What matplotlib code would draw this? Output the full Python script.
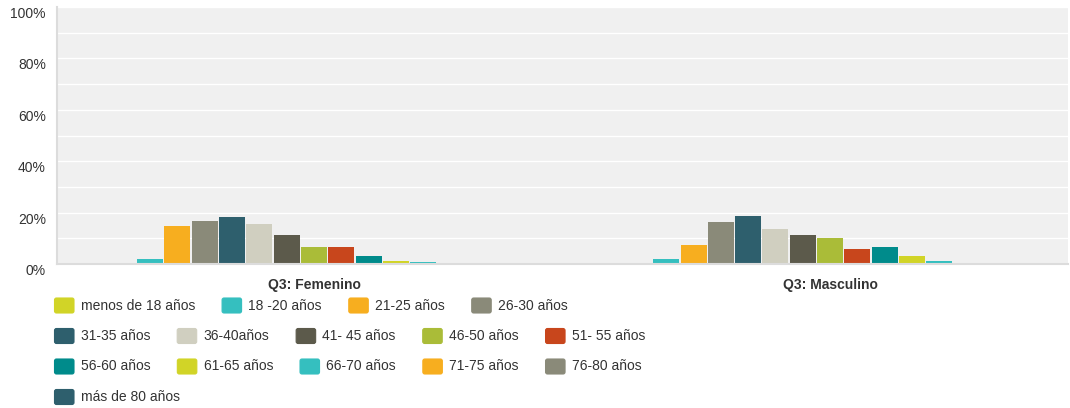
import numpy as np
import matplotlib
matplotlib.use('Agg')
import matplotlib.pyplot as plt
from matplotlib.patches import FancyBboxPatch
from matplotlib.transforms import Affine2D, ScaledTranslation

plt.rcParams['font.family'] = ['Liberation Sans', 'DejaVu Sans']

# datos
categorias = ['Q3: Femenino', 'Q3: Masculino']
series = ['menos de 18 años', '18 -20 años', '21-25 años', '26-30 años',
          '31-35 años', '36-40años', '41- 45 años', '46-50 años',
          '51- 55 años', '56-60 años', '61-65 años', '66-70 años',
          '71-75 años', '76-80 años', 'más de 80 años']
femenino = [0, 1.9, 14.8, 16.8, 18.3, 15.6, 11.3, 6.6, 6.6, 3.1, 1.2, 0.8, 0, 0, 0]
masculino = [0, 1.9, 7.4, 16.4, 18.7, 13.6, 11.3, 10.1, 5.8, 6.6, 3.1, 1.2, 0, 0, 0]
colores = ['#d1d427', '#35bfbf', '#f7ae1f', '#8a8a79', '#2e5f6d',
           '#d0cfc0', '#5c5a4b', '#aabc38', '#c8461c', '#008b8b',
           '#d1d427', '#35bfbf', '#f7ae1f', '#8a8a79', '#2e5f6d']
yticks = [0, 20, 40, 60, 80, 100]

W, H = 1070, 408
fs = 10.0
fig = plt.figure(figsize=(W / 100, H / 100), dpi=100)
ax = fig.add_axes([57 / W, (H - 264) / H, (1068 - 57) / W, (264 - 7) / H])
ax.set_facecolor('#f0f0f0')

paso = 27.3 / 516
ancho = 26 / 516
valores = np.array([femenino, masculino])
xcat = np.arange(len(categorias))
for i, s in enumerate(series):
    ax.bar(xcat + (i - 7) * paso, valores[:, i], width=ancho, color=colores[i],
           zorder=3, linewidth=0)

ax.set_xlim(-0.498, 1.461)
ax.set_ylim(0, 100)
ax.set_yticks(yticks)
ax.set_yticklabels([f'{v}%' for v in yticks])
ax.set_yticks(np.arange(0, 101, 10), minor=True)
ax.grid(True, which='both', axis='y', color='white', linewidth=1.0, zorder=1)
ax.tick_params(axis='y', which='both', length=0, pad=8, labelsize=fs, labelcolor='#333333')
offset = ScaledTranslation(0, -5.5 / 100, fig.dpi_scale_trans)
for lab in ax.get_yticklabels():
    lab.set_transform(lab.get_transform() + offset)
ax.set_xticks(xcat)
ax.set_xticklabels(categorias, fontweight='bold')
ax.tick_params(axis='x', length=0, pad=10, labelsize=fs, labelcolor='#333333')
for lado in ['top', 'right']:
    ax.spines[lado].set_visible(False)
ax.spines['left'].set_color('#dcdcdc')
ax.spines['left'].set_linewidth(1.5)
ax.spines['bottom'].set_color('#dcdcdc')
ax.spines['bottom'].set_linewidth(1.5)
ax.spines['bottom'].set_zorder(4)

# leyenda en flujo (coordenadas en pixeles desde arriba a la izquierda)
px = Affine2D().scale(1 / 100, -1 / 100).translate(0, H / 100) + fig.dpi_scale_trans
renderer = fig.canvas.get_renderer()
x0, y, limite = 54, 305.5, 660
x = x0
for s, c in zip(series, colores):
    t = fig.text(0, 0, s, fontsize=fs, color='#333333', va='center', ha='left',
                 transform=px)
    tw = t.get_window_extent(renderer).width
    if x + 26.7 + tw > limite and x > x0:
        x = x0
        y += 30.5
    t.set_position((x + 26.7, y))
    fig.add_artist(FancyBboxPatch((x + 0.5, y - 7.5), 19.5, 15,
                                  boxstyle='round,pad=0,rounding_size=2',
                                  facecolor=c, edgecolor=c, linewidth=0.8,
                                  transform=px))
    x += 26.7 + tw + 26.5

fig.savefig('out.png', dpi=100, facecolor='white')
